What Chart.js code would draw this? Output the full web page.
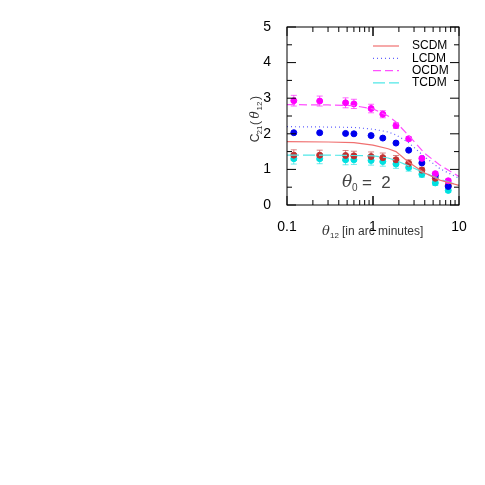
<!DOCTYPE html>
<html><head><meta charset="utf-8">
<script src="https://cdn.jsdelivr.net/npm/chart.js@4"></script>
<style>html,body{margin:0;padding:0;background:#fff}#w{width:485px;height:485px}</style>
</head><body><div id="w"><canvas id="c"></canvas></div>
<script>
const xPts=[0.12,0.24,0.48,0.6,0.95,1.3,1.85,2.6,3.7,5.3,7.5];
const ocdmPts=[2.93,2.92,2.87,2.84,2.71,2.55,2.23,1.86,1.31,0.88,0.68];
const lcdmPts=[2.03,2.03,2.01,2.0,1.95,1.88,1.74,1.54,1.18,0.83,0.52];
const scdmPts=[1.40,1.40,1.39,1.38,1.36,1.33,1.27,1.17,0.98,0.75,0.55];
const tcdmPts=[1.30,1.30,1.27,1.27,1.25,1.22,1.15,1.05,0.86,0.62,0.41];
const errOcdm=[0.15,0.14,0.14,0.13,0.12,0.1,0.08,0.06,0.05,0.05,0.05];
const errScdm=[0.15,0.14,0.14,0.13,0.13,0.13,0.12,0.1,0.08,0.07,0.06];
const errTcdm=[0.15,0.14,0.14,0.13,0.13,0.13,0.12,0.1,0.08,0.07,0.06];
const xLine=[0.1,0.3,0.6,1,1.5,1.85,2.6,4,6,10];
const scdmLine=[1.78,1.77,1.75,1.68,1.58,1.5,1.2,0.9,0.7,0.55];
const lcdmLine=[2.2,2.19,2.18,2.13,2.05,1.97,1.75,1.35,1.02,0.75];
const ocdmLine=[2.82,2.81,2.79,2.7,2.5,2.33,1.95,1.45,1.12,0.8];
const tcdmLine=[1.4,1.4,1.39,1.38,1.32,1.25,1.1,0.9,0.72,0.55];
const xy=(xs,ys)=>xs.map((x,i)=>({x,y:ys[i]}));
const lineDs=(l,d,c,dash)=>({label:l,data:xy(xLine,d),showLine:true,borderColor:c,borderWidth:1.2,borderDash:dash,pointRadius:0,fill:false});
const ptDs=(d,c,e)=>({label:'',data:xy(xPts,d),showLine:false,backgroundColor:c,borderColor:c,pointRadius:3,err:e});
const cS='#f07070',cL='#6060ff',cO='#ff50ff',cT='#50e8e8';
const decor={id:'decor',
 beforeDatasetsDraw(ch){const c=ch.ctx,xs=ch.scales.x,ys=ch.scales.y;
  ch.data.datasets.forEach(ds=>{if(!ds.err)return;c.save();c.strokeStyle=ds.borderColor;c.globalAlpha=0.6;c.lineWidth=1;
   ds.data.forEach((p,i)=>{const px=xs.getPixelForValue(p.x),t=ys.getPixelForValue(p.y+ds.err[i]),b=ys.getPixelForValue(p.y-ds.err[i]);
    c.beginPath();c.moveTo(px,t);c.lineTo(px,b);c.moveTo(px-3,t);c.lineTo(px+3,t);c.moveTo(px-3,b);c.lineTo(px+3,b);c.stroke();});c.restore();});},
 afterDraw(ch){const c=ch.ctx,a=ch.chartArea,xs=ch.scales.x,ys=ch.scales.y;c.save();
  c.strokeStyle='#000';c.lineWidth=1;c.strokeRect(a.left,a.top,a.right-a.left,a.bottom-a.top);
  c.beginPath();
  for(let d=0.1;d<10;d*=10)for(let k=1;k<=10;k++){const v=d*k,px=xs.getPixelForValue(v),L=(k===1||k===10)?9:5;
   c.moveTo(px,a.bottom);c.lineTo(px,a.bottom-L);c.moveTo(px,a.top);c.lineTo(px,a.top+L);}
  for(let v=0;v<=5.001;v+=0.5){const py=ys.getPixelForValue(v),L=(Math.abs(v-Math.round(v))<1e-6)?9:5;
   c.moveTo(a.left,py);c.lineTo(a.left+L,py);c.moveTo(a.right,py);c.lineTo(a.right-L,py);}
  c.stroke();
  const leg=[['SCDM',cS,[]],['LCDM',cL,[1,3]],['OCDM',cO,[8,4]],['TCDM',cT,[12,4]]];
  c.font='12px "Liberation Sans"';c.textBaseline='middle';c.lineWidth=1.2;
  leg.forEach((l,i)=>{const yy=46+i*12.3;c.strokeStyle=l[1];c.setLineDash(l[2]);c.beginPath();c.moveTo(373,yy);c.lineTo(399,yy);c.stroke();c.setLineDash([]);c.fillStyle='#000';c.fillText(l[0],412,yy);});
  c.fillStyle='#444';c.font='italic 17px "DejaVu Serif"';c.fillText('θ',342,183);
  c.font='10px "Liberation Sans"';c.fillText('0',352,188);
  c.font='17px "Liberation Sans"';c.fillText('=  2',362,183);
  c.fillStyle='#333';c.font='italic 13px "DejaVu Serif"';c.textAlign='left';c.fillText('θ',322,232);
  c.font='8px "Liberation Sans"';c.fillText('12',330,236);
  c.font='12px "Liberation Sans"';c.fillText('[in arc minutes]',342,232);
  c.translate(256,116);c.rotate(-Math.PI/2);c.textAlign='center';c.font='12px "Liberation Sans"';
  c.fillText('C',-22,0);c.font='8px "Liberation Sans"';c.fillText('21',-14,4);c.font='12px "Liberation Sans"';c.fillText('(',-7,0);
  c.font='italic 12px "DejaVu Serif"';c.fillText('θ',1,0);c.font='8px "Liberation Sans"';c.fillText('12',10,4);c.font='12px "Liberation Sans"';c.fillText(')',18,0);
  c.restore();}};
new Chart(document.getElementById('c'),{type:'scatter',
 data:{datasets:[lineDs('SCDM',scdmLine,cS,[]),lineDs('LCDM',lcdmLine,cL,[1,3]),lineDs('OCDM',ocdmLine,cO,[8,4]),lineDs('TCDM',tcdmLine,cT,[12,4]),
  ptDs(ocdmPts,'#ff00ff',errOcdm),ptDs(lcdmPts,'#0000ee',null),ptDs(scdmPts,'#c03030',errScdm),ptDs(tcdmPts,'#00e0e0',errTcdm)]},
 options:{responsive:true,maintainAspectRatio:false,animation:false,devicePixelRatio:1,
  layout:{padding:{left:0,top:27,right:26,bottom:0}},
  plugins:{legend:{display:false},tooltip:{enabled:false}},
  scales:{x:{type:'logarithmic',min:0.1,max:10,grid:{display:false},border:{display:false},
    afterFit(s){s.height=280;},
    ticks:{autoSkip:false,maxRotation:0,minRotation:0,color:'#000',font:{size:14,family:'Liberation Sans'},padding:6,callback:v=>[0.1,1,10].some(t=>Math.abs(v-t)<1e-9)?String(v):''}},
   y:{min:0,max:5,grid:{display:false},border:{display:false},afterFit(s){s.width=287;},
    ticks:{stepSize:1,color:'#000',font:{size:14,family:'Liberation Sans'},padding:8}}}},
 plugins:[decor]});
</script></body></html>
